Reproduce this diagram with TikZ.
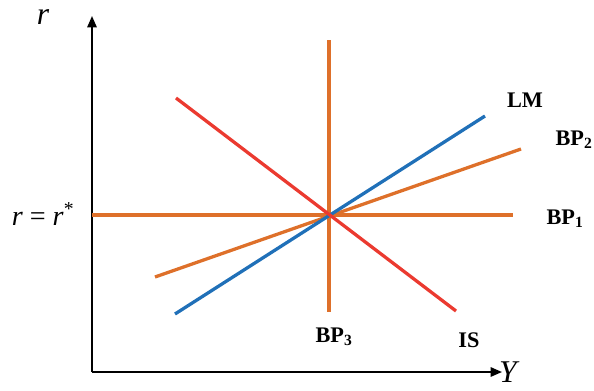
\documentclass[tikz,border=0pt]{standalone}
\usepackage{fontspec}
\setmainfont{Liberation Serif}
\usetikzlibrary{arrows.meta, positioning}
\definecolor{isred}{RGB}{235,58,48}
\definecolor{lmblue}{RGB}{32,112,184}
\definecolor{bporange}{RGB}{222,112,42}
\tikzset{
  axis/.style   ={line width=1.5pt, -{Triangle[length=3.4mm, width=2.8mm]}},
  curve/.style  ={line width=2.8pt},
  lbl/.style    ={font=\fontsize{19}{22}\selectfont\bfseries, inner sep=0pt},
  albl/.style   ={font=\fontsize{27}{30}\selectfont\itshape, inner sep=0pt},
}
\newcommand{\BP}[1]{BP\textsubscript{#1}}

\begin{document}
\begin{tikzpicture}[x=0.03cm, y=-0.03cm]
  \useasboundingbox (0,0) rectangle (594,390);
  % axes
  \coordinate (o) at (92,372);
  \coordinate (ytop) at (92,16);
  \coordinate (xend) at (502,372);
  \draw[axis](o)--(ytop); \draw[axis](o)--(xend);
  \node[albl] (rlab) at (43,17) {r};
  \node[albl,anchor=west] (ylab) at (499,372) {Y};
  \node[font=\fontsize{24}{27}\selectfont, inner sep=0pt] (rstar) at (43,214) {\textit{r} = \textit{r}\textsuperscript{*}};

  % curves
  \coordinate (e) at (329,215);
  \coordinate (bp1a) at (92,215);   \coordinate (bp1b) at (513,215);
  \coordinate (bp3a) at (329,40);   \coordinate (bp3b) at (329,312);
  \coordinate (isa) at (176,98);    \coordinate (isb) at (456,311);
  \coordinate (lma) at (175,314);   \coordinate (lmb) at (485,116);
  \coordinate (bp2a) at (155,277);  \coordinate (bp2b) at (521,149);
  \draw[curve,bporange](bp1a)--(bp1b);
  \draw[curve,bporange](bp3a)--(bp3b);
  \draw[curve,bporange](bp2a)--(bp2b);
  \draw[curve,lmblue](lma)--(lmb);
  \draw[curve,isred](isa)--(isb);

  % labels
  \node[lbl] (lmlab) at (525,100) {LM};
  \node[lbl] (bp2lab) at (574,140) {\BP{2}};
  \node[lbl] (bp1lab) at (565,219) {\BP{1}};
  \node[lbl] (bp3lab) at (334,337) {\BP{3}};
  \node[lbl] (islab) at (469,340) {IS};
\end{tikzpicture}
\end{document}
